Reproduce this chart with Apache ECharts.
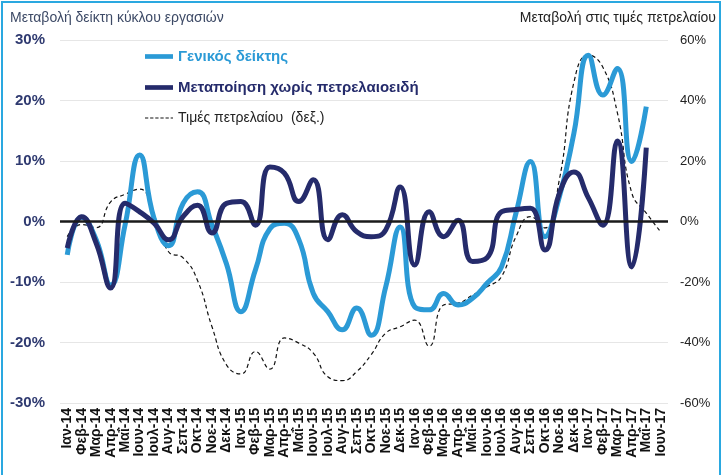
<!DOCTYPE html>
<html>
<head>
<meta charset="utf-8">
<script src="https://cdn.jsdelivr.net/npm/echarts@6/dist/echarts.min.js"></script>
<style>html,body{margin:0;padding:0;background:#fff;}#c{width:723px;height:475px;}</style>
</head>
<body>
<div id="c"></div>
<script>
var categories = ['Ιαν-14','Φεβ-14','Μαρ-14','Απρ-14','Μαΐ-14','Ιουν-14','Ιουλ-14','Αυγ-14','Σεπ-14','Οκτ-14','Νοε-14','Δεκ-14',
  'Ιαν-15','Φεβ-15','Μαρ-15','Απρ-15','Μαΐ-15','Ιουν-15','Ιουλ-15','Αυγ-15','Σεπ-15','Οκτ-15','Νοε-15','Δεκ-15',
  'Ιαν-16','Φεβ-16','Μαρ-16','Απρ-16','Μαΐ-16','Ιουν-16','Ιουλ-16','Αυγ-16','Σεπ-16','Οκτ-16','Νοε-16','Δεκ-16',
  'Ιαν-17','Φεβ-17','Μαρ-17','Απρ-17','Μαΐ-17','Ιουν-17'];
var generalIndex = [-5.5,0.7,-3,-10.5,-0.5,11,0.5,-4,3,4.9,-0.6,-7,
  -14.9,-8,-1.2,-0.3,-3,-11.9,-14.9,-17.9,-14.3,-18.8,-10.8,-0.9,
  -14.1,-14.6,-11.9,-13.8,-12.7,-10.2,-7.5,1.4,9.9,-2.5,4.1,14.6,
  27.5,20.9,25.3,9.9,19,null];
var manufacturing = [-4.4,0.8,-3.6,-11,3,1.6,-0.3,-3,0.8,2.7,-1.9,3,
  3.3,-0.6,9,8,3.3,6.9,-3,1.1,-1.7,-2.5,-1.4,5.7,
  -7.2,1.6,-2.5,0.2,-6.6,-6,1.6,2,2.2,-4.7,4.7,8.2,
  3.9,-0.6,13.3,-7.5,12.2,null];
var oilPrices = [-5,-1,-2,6.5,9,10.7,2,-10,-12,-19.5,-34.8,-47.4,
  -50.4,-43,-48.8,-38.5,-40.2,-43.5,-51.3,-52.6,-49.6,-44,-36.9,-34.8,
  -32.6,-41.2,-27.6,-27,-24.3,-21.6,-18.2,-5,1.6,-2.1,14,46,
  55,51,36,9.4,2.8,-3.5];
var leftTicks = {min:-30, max:30, interval:10};
var rightTicks = {min:-60, max:60, interval:20};

var FONT = "'Liberation Sans', Arial, sans-serif";
var solidIcon = 'path://M0,0L30,0L30,5L0,5Z';
var dashIcon = 'path://M0,0h3.5v1h-3.5zM5.5,0h3.5v1h-3.5zM11,0h3.5v1h-3.5zM16.5,0h3.5v1h-3.5zM22,0h3.5v1h-3.5zM27.5,0h2.5v1h-2.5z';
var chart = echarts.init(document.getElementById('c'), null, {renderer:'canvas'});
chart.setOption({
  backgroundColor:'#ffffff',
  animation:false,
  textStyle:{fontFamily:FONT},
  grid:{left:60, right:55, top:40, bottom:72},
  graphic:[
    {type:'rect', shape:{x:2,y:2,width:718,height:480}, style:{fill:'none', stroke:'#2aa8e0', lineWidth:2}, z:-1},
    {type:'text', left:10, top:11, style:{text:'Μεταβολή δείκτη κύκλου εργασιών', fill:'#3d4a66', font:'14px '+FONT}},
    {type:'text', right:7, top:11, style:{text:'Μεταβολή στις τιμές πετρελαίου', fill:'#222', font:'14px '+FONT}}
  ],
  legend:{
    orient:'vertical', left:140, top:44, itemGap:16, itemWidth:28, itemHeight:18,
    data:[
      {name:'Γενικός δείκτης', icon:solidIcon, textStyle:{color:'#2b9ad6', fontWeight:'bold', fontSize:15}},
      {name:'Μεταποίηση χωρίς πετρελαιοειδή', icon:solidIcon, textStyle:{color:'#252b6b', fontWeight:'bold', fontSize:15}},
      {name:'Τιμές πετρελαίου  (δεξ.)', icon:dashIcon, textStyle:{color:'#222', fontSize:14}}
    ]
  },
  xAxis:{
    type:'category', data:categories, boundaryGap:true,
    axisLine:{show:false}, axisTick:{show:false},
    axisLabel:{rotate:90, interval:0, fontWeight:'bold', fontSize:14, color:'#111', margin:5, fontFamily:FONT}
  },
  yAxis:[
    {type:'value', min:leftTicks.min, max:leftTicks.max, interval:leftTicks.interval,
     axisLine:{show:false}, axisTick:{show:false},
     splitLine:{lineStyle:{color:'#e6e6e6', width:1}},
     axisLabel:{formatter:'{value}%', fontWeight:'bold', fontSize:15, color:'#2f3a70', margin:15}},
    {type:'value', min:rightTicks.min, max:rightTicks.max, interval:rightTicks.interval,
     axisLine:{show:false}, axisTick:{show:false}, splitLine:{show:false},
     axisLabel:{formatter:'{value}%', fontSize:13, color:'#222', margin:12}}
  ],
  series:[
    {name:'Τιμές πετρελαίου  (δεξ.)', type:'line', yAxisIndex:1, data:oilPrices, smooth:0.5, symbol:'none',
     lineStyle:{color:'#111', width:1.2, type:[4,3]}, itemStyle:{color:'#111'}, z:2,
     markLine:{silent:true, symbol:'none', label:{show:false},
       lineStyle:{color:'#1a1a1a', width:2.5, type:'solid'}, data:[{yAxis:0}]}},
    {name:'Γενικός δείκτης', type:'line', yAxisIndex:0, data:generalIndex, smooth:0.5, symbol:'none',
     lineStyle:{color:'#2b9ad6', width:5}, itemStyle:{color:'#2b9ad6'}, z:3},
    {name:'Μεταποίηση χωρίς πετρελαιοειδή', type:'line', yAxisIndex:0, data:manufacturing, smooth:0.5, symbol:'none',
     lineStyle:{color:'#252b6b', width:5}, itemStyle:{color:'#252b6b'}, z:4}
  ]
});
</script>
</body>
</html>
